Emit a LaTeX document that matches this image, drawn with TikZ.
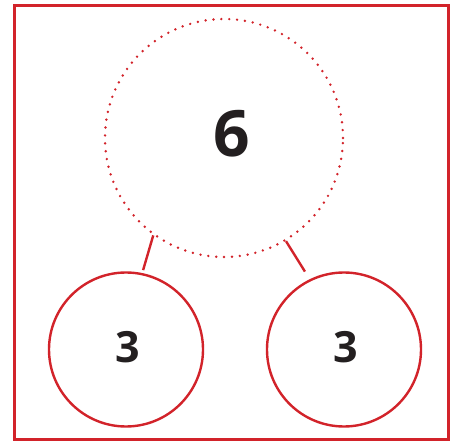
\documentclass[tikz,border=0pt]{standalone}
\usepackage{fontspec}
\setmainfont{Open Sans}
\definecolor{bondred}{HTML}{D2232A}
\definecolor{ink}{HTML}{231F20}
\begin{document}
\begin{tikzpicture}[x=1pt,y=-1pt,
  frame/.style={draw=bondred,line width=3pt},
  wholecircle/.style={circle,draw=bondred,line width=2.7pt,line cap=round,
    dash pattern=on 0pt off 7.9pt,minimum size=238pt,inner sep=0pt},
  partcircle/.style={circle,draw=bondred,line width=2.4pt,minimum size=154pt,inner sep=0pt},
  bigdigit/.style={inner sep=0pt,font=\fontsize{64}{64}\selectfont\bfseries,text=ink},
  smalldigit/.style={inner sep=0pt,font=\fontsize{43}{43}\selectfont\bfseries,text=ink},
  bond/.style={draw=bondred,line width=2.4pt}]
\useasboundingbox (0,0) rectangle (456,441);
\draw[frame] (14,6) rectangle (448,439);
\node[wholecircle] (whole) at (224,138) {};
\node[bigdigit] (six) at (231.5,134) {6};
\node[partcircle] (left) at (126,349.5) {};
\node[smalldigit] (leftthree) at (127.5,347) {3};
\node[partcircle] (right) at (344,349.5) {};
\node[smalldigit] (rightthree) at (345.5,347) {3};
\draw[bond,shorten >=3pt] (whole.234) -- (left.78);
\draw[bond,shorten >=9pt] (whole.301) -- (right.116);
\end{tikzpicture}
\end{document}
